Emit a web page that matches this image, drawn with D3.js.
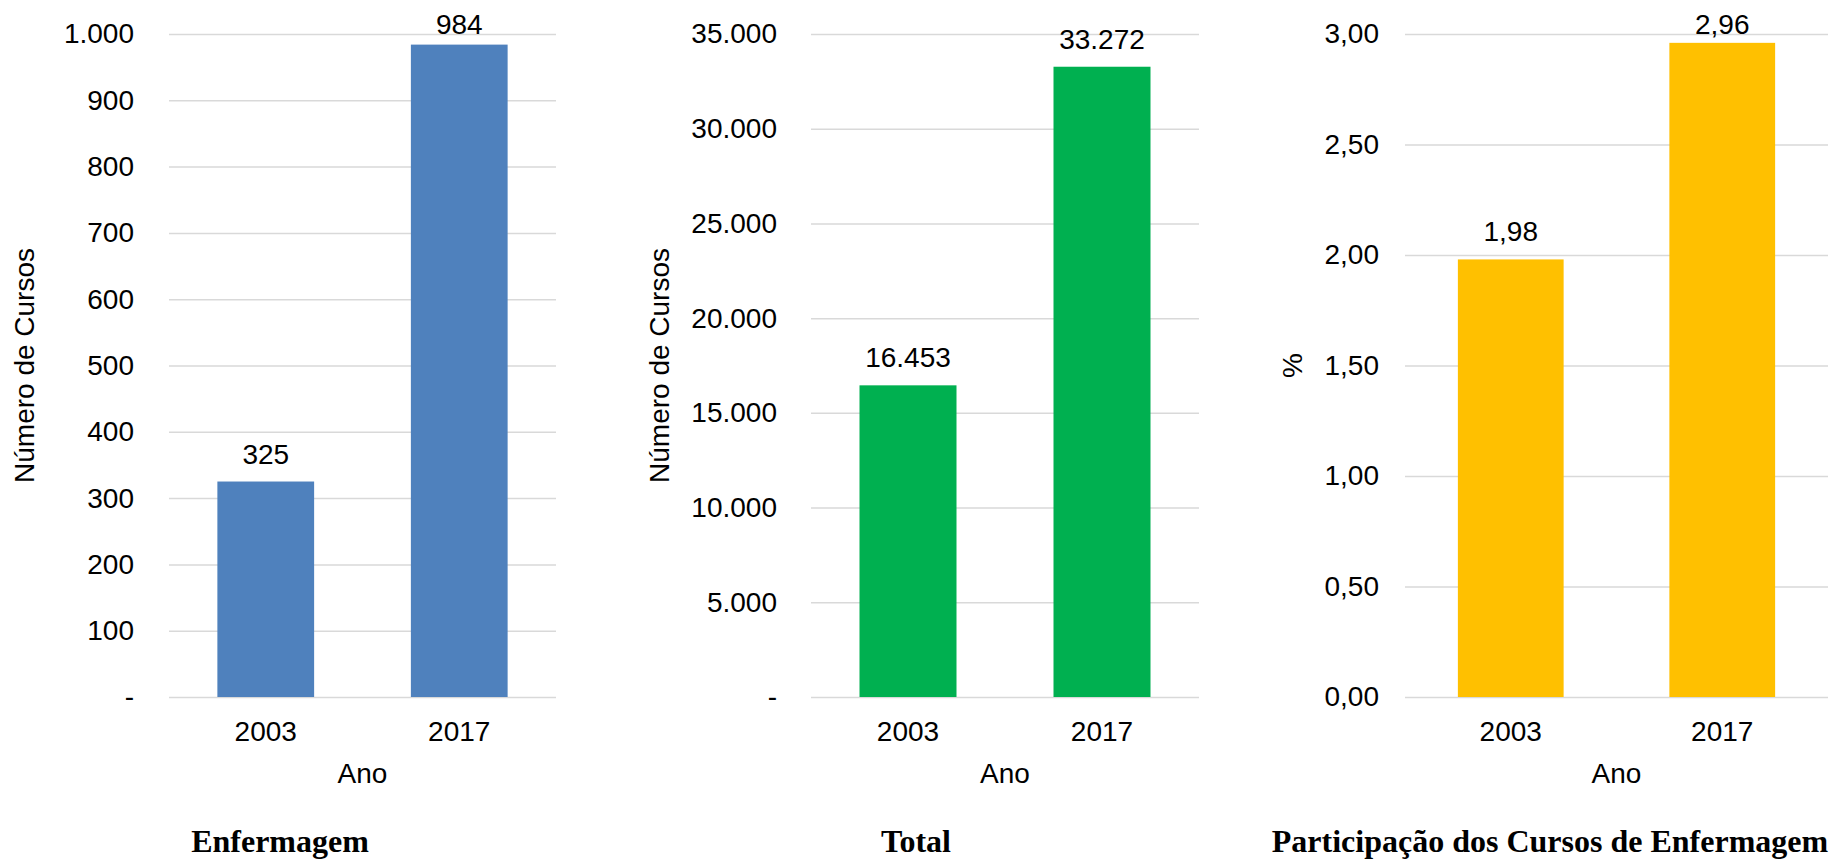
<!DOCTYPE html>
<html>
<head>
<meta charset="utf-8">
<script src="https://cdn.jsdelivr.net/npm/d3@7"></script>
<style>
  body { margin: 0; background: #fff; }
  .tick text, .axistext, .valor { font-family: "Liberation Sans", Arial, sans-serif; font-size: 28px; fill: #000; }
  .titulo { font-family: "Liberation Serif", "Times New Roman", serif; font-size: 32px; font-weight: bold; fill: #000; }
</style>
</head>
<body>
<div id="chart"></div>
<script>
var years = ["2003", "2017"];
var cursosEnfermagem = [325, 984];
var cursosTotal = [16453, 33272];
var participacao = [1.98, 2.96];

var ticksEnfermagem = [0, 100, 200, 300, 400, 500, 600, 700, 800, 900, 1000];
var ticksTotal = [0, 5000, 10000, 15000, 20000, 25000, 30000, 35000];
var ticksParticipacao = [0, 0.5, 1, 1.5, 2, 2.5, 3];

var width = 1833, height = 860;
var top_y = 34, base_y = 697;

var pt = d3.formatLocale({decimal: ",", thousands: ".", grouping: [3], currency: ["R$", ""]});
var fmtInt = function (d) { return d === 0 ? "-" : pt.format(",.0f")(d); };
var fmtDec = pt.format(",.2f");

var svg = d3.select("#chart").append("svg")
    .attr("width", width)
    .attr("height", height);

function draw_chart(opt) {
    var x = d3.scaleBand()
        .domain(years)
        .range([opt.left, opt.right])
        .paddingInner(0.5)
        .paddingOuter(0.25);
    var y = d3.scaleLinear()
        .domain([0, opt.ticks[opt.ticks.length - 1]])
        .range([base_y, top_y]);

    var g = svg.append("g");

    // y axis + gridlines
    var yAxis = g.append("g")
        .attr("transform", "translate(" + opt.left + ",0)")
        .call(d3.axisLeft(y)
            .tickValues(opt.ticks)
            .tickSize(-(opt.right - opt.left))
            .tickPadding(opt.left - opt.labelX)
            .tickFormat(opt.fmt));
    yAxis.select(".domain").remove();
    yAxis.selectAll(".tick line")
        .attr("stroke", "#d9d9d9")
        .attr("stroke-width", 1.5);

    // bars
    g.selectAll("rect.bar")
        .data(opt.values)
        .enter().append("rect")
        .attr("class", "bar")
        .style("fill", opt.color)
        .attr("x", function (d, i) { return x(years[i]); })
        .attr("width", x.bandwidth())
        .attr("y", function (d) { return y(d); })
        .attr("height", function (d) { return base_y - y(d); });

    // data labels (kept inside the plot area like excel does)
    g.selectAll("text.valor")
        .data(opt.values)
        .enter().append("text")
        .attr("class", "valor")
        .attr("text-anchor", "middle")
        .attr("x", function (d, i) { return x(years[i]) + x.bandwidth() / 2; })
        .attr("y", function (d) { return Math.max(y(d) - 18, top_y); })
        .text(opt.valFmt);

    // x axis
    var xAxis = g.append("g")
        .attr("transform", "translate(0," + base_y + ")")
        .call(d3.axisBottom(x).tickSize(0).tickPadding(24));
    xAxis.select(".domain").remove();

    g.append("text")
        .attr("class", "axistext")
        .attr("text-anchor", "middle")
        .attr("x", (opt.left + opt.right) / 2)
        .attr("y", 783)
        .text("Ano");

    // y title
    g.append("text")
        .attr("class", "axistext")
        .attr("text-anchor", "middle")
        .attr("transform", "translate(" + opt.titleYX + "," + ((top_y + base_y) / 2) + ") rotate(-90)")
        .attr("dy", "0.35em")
        .text(opt.yTitle);

    // caption
    g.append("text")
        .attr("class", "titulo")
        .attr("text-anchor", "middle")
        .attr("x", opt.captionX)
        .attr("y", 852)
        .text(opt.caption);
}

draw_chart({
    left: 169, right: 556, labelX: 134, titleYX: 24, captionX: 280,
    values: cursosEnfermagem, ticks: ticksEnfermagem, fmt: fmtInt,
    valFmt: function (d) { return pt.format(",.0f")(d); },
    color: "#4f81bd", yTitle: "Número de Cursos", caption: "Enfermagem"
});
draw_chart({
    left: 811, right: 1199, labelX: 777, titleYX: 659, captionX: 916,
    values: cursosTotal, ticks: ticksTotal, fmt: fmtInt,
    valFmt: function (d) { return pt.format(",.0f")(d); },
    color: "#00b050", yTitle: "Número de Cursos", caption: "Total"
});
draw_chart({
    left: 1405, right: 1828, labelX: 1379, titleYX: 1292, captionX: 1550,
    values: participacao, ticks: ticksParticipacao, fmt: fmtDec,
    valFmt: fmtDec,
    color: "#ffc000", yTitle: "%", caption: "Participação dos Cursos de Enfermagem"
});
</script>
</body>
</html>
